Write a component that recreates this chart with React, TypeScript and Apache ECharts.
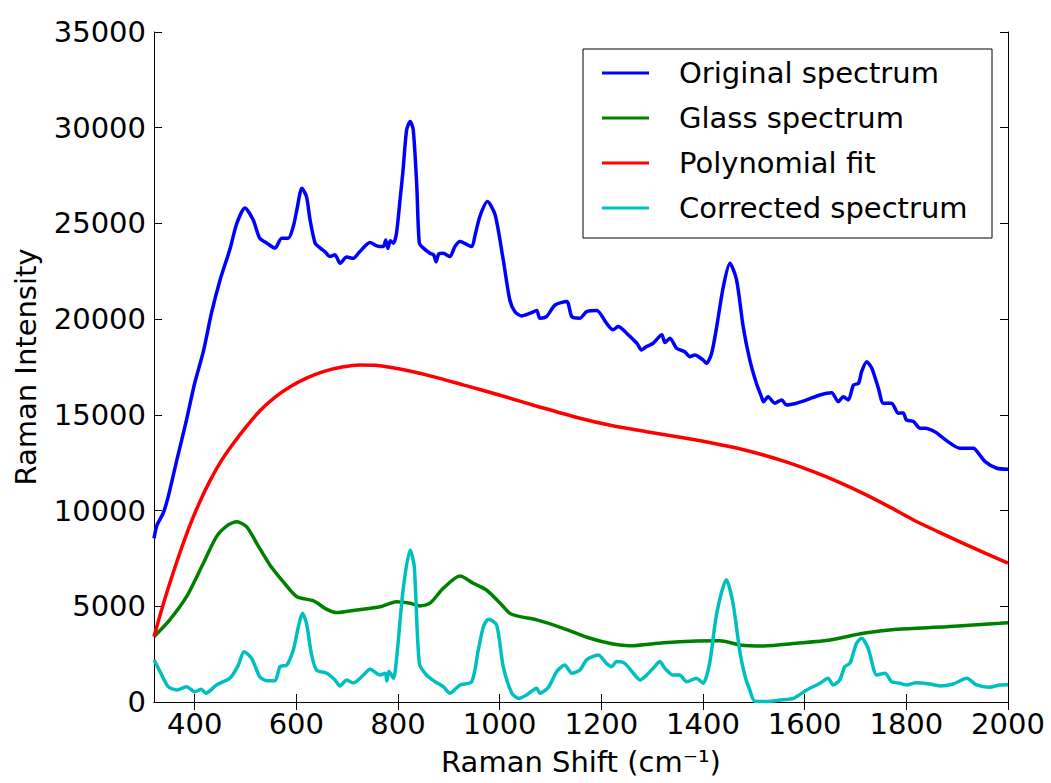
import React, { useEffect, useRef } from "react";
import * as echarts from "echarts";

const FONT = "DejaVu Sans";

const xTicks = [400, 600, 800, 1000, 1200, 1400, 1600, 1800, 2000];

const originalSpectrum: number[][] = [
  [320, 8550], [326, 9250], [338, 9860], [348, 10730], [365, 12650], [384, 14740], [400, 16650], [417, 18300],
  [433, 20310], [450, 22050], [469, 23620], [483, 25010], [499, 25800], [515, 25190], [528, 24230], [542, 23970],
  [558, 23710], [571, 24230], [584, 24230], [594, 24840], [601, 25710], [611, 26840], [620, 26400], [627, 25190],
  [637, 23970], [647, 23710], [656, 23530], [666, 23270], [676, 23360], [686, 22920], [699, 23240], [712, 23180],
  [725, 23530], [745, 24000], [758, 23830], [771, 23790], [776, 24140], [780, 23700], [785, 24100], [791, 23970],
  [797, 24490], [804, 26230], [810, 27800], [817, 29890], [824, 30320], [830, 29890], [837, 26930], [842, 23970],
  [850, 23710], [863, 23440], [870, 23360], [875, 23000], [880, 23400], [889, 23440], [902, 23270], [912, 23790],
  [922, 24050], [945, 23790], [951, 24310], [961, 25360], [976, 26140], [991, 25450], [1007, 23100], [1020, 21000],
  [1030, 20390], [1043, 20170], [1060, 20310], [1073, 20450], [1079, 20050], [1092, 20130], [1109, 20740],
  [1132, 20920], [1142, 20130], [1158, 20050], [1171, 20390], [1191, 20450], [1210, 19790], [1223, 19440],
  [1233, 19610], [1250, 19260], [1263, 18920], [1270, 18740], [1279, 18390], [1289, 18570], [1302, 18740],
  [1319, 19180], [1325, 18780], [1335, 19000], [1348, 18480], [1364, 18300], [1374, 18040], [1384, 18130],
  [1400, 17870], [1407, 17700], [1417, 18220], [1427, 19610], [1440, 21700], [1453, 22920], [1466, 22050],
  [1479, 19610], [1492, 17870], [1505, 16650], [1515, 15950], [1519, 15690], [1528, 15950], [1541, 15610],
  [1555, 15780], [1564, 15520], [1584, 15610], [1604, 15780], [1630, 16040], [1653, 16160], [1666, 15690],
  [1676, 15950], [1686, 15780], [1696, 16560], [1706, 16650], [1712, 17260], [1722, 17780], [1732, 17440],
  [1745, 16390], [1755, 15610], [1771, 15610], [1784, 15090], [1794, 15100], [1800, 14740], [1814, 14650],
  [1827, 14300], [1837, 14300], [1856, 14120], [1869, 13860], [1882, 13600], [1905, 13260], [1932, 13260],
  [1942, 12990], [1955, 12560], [1978, 12210], [2000, 12160],
];

const glassSpectrum: number[][] = [
  [320, 3410], [351, 4290], [384, 5500], [417, 7250], [443, 8640], [466, 9250], [483, 9420], [502, 9160],
  [522, 8290], [548, 7160], [574, 6290], [601, 5500], [633, 5290], [660, 4840], [679, 4670], [719, 4810],
  [765, 4980], [797, 5240], [824, 5160], [843, 5020], [863, 5160], [889, 5940], [922, 6580], [948, 6200],
  [974, 5850], [1001, 5160], [1020, 4630], [1040, 4460], [1073, 4290], [1125, 3850], [1178, 3330], [1223, 3030],
  [1256, 2940], [1322, 3100], [1387, 3190], [1433, 3200], [1473, 2980], [1519, 2930], [1584, 3070], [1650, 3240],
  [1715, 3590], [1781, 3800], [1879, 3930], [1984, 4110], [2000, 4140],
];

const polynomialFit: number[][] = [
  [320, 3410], [335, 4820], [351, 6200], [370, 7720], [391, 9250], [410, 10450], [430, 11550], [452, 12580],
  [476, 13500], [500, 14330], [528, 15200], [557, 15900], [587, 16460], [620, 16920], [653, 17260], [690, 17500],
  [725, 17610], [755, 17590], [784, 17490], [825, 17280], [869, 17000], [930, 16550], [999, 16040], [1080, 15400],
  [1158, 14820], [1220, 14440], [1289, 14120], [1355, 13830], [1420, 13520], [1470, 13240], [1519, 12900],
  [1568, 12500], [1617, 12030], [1666, 11500], [1715, 10900], [1765, 10220], [1814, 9510], [1863, 8890],
  [1912, 8290], [1956, 7760], [2000, 7250],
];

const correctedSpectrum: number[][] = [
  [320, 2200], [332, 1580], [348, 800], [365, 630], [384, 800], [400, 540], [413, 660], [422, 460], [443, 890],
  [469, 1240], [486, 1930], [497, 2630], [512, 2280], [528, 1320], [542, 1110], [558, 1110], [568, 1850],
  [581, 1930], [594, 2720], [604, 3930], [612, 4630], [620, 4110], [630, 2460], [640, 1670], [660, 1500],
  [676, 1150], [686, 840], [699, 1150], [712, 1000], [732, 1410], [745, 1710], [765, 1410], [775, 1500],
  [778, 1100], [782, 1600], [791, 1240], [797, 2200], [810, 5850], [824, 7940], [832, 7070], [842, 2020],
  [856, 1410], [873, 1060], [889, 800], [902, 460], [922, 890], [945, 1060], [958, 2720], [968, 3930],
  [978, 4320], [994, 4020], [1007, 1850], [1024, 460], [1037, 190], [1053, 370], [1073, 720], [1079, 460],
  [1096, 770], [1112, 1580], [1128, 1930], [1142, 1500], [1158, 1670], [1171, 2200], [1194, 2460], [1210, 2020],
  [1220, 1850], [1230, 2110], [1246, 2020], [1263, 1500], [1276, 1150], [1289, 1400], [1305, 1850], [1315, 2110],
  [1325, 1760], [1341, 1410], [1354, 1410], [1368, 1060], [1387, 1240], [1400, 980], [1413, 2020], [1427, 4630],
  [1446, 6380], [1459, 5160], [1473, 2540], [1483, 1320], [1492, 630], [1502, 40], [1525, 30], [1551, 100],
  [1578, 190], [1604, 630], [1630, 980], [1646, 1240], [1656, 890], [1669, 1150], [1679, 1850], [1689, 2020],
  [1702, 3070], [1712, 3330], [1725, 2800], [1742, 1410], [1758, 1500], [1771, 1060], [1787, 980], [1800, 890],
  [1820, 1010], [1846, 940], [1866, 840], [1892, 940], [1919, 1240], [1938, 890], [1964, 770], [1984, 890],
  [2000, 900],
];

const seriesNames = ["Original spectrum", "Glass spectrum", "Polynomial fit", "Corrected spectrum"];
const seriesColors = ["#0000ff", "#008000", "#ff0000", "#00bfbf"];

export default function App() {
  const ref = useRef<HTMLDivElement>(null);
  useEffect(() => {
    if (!ref.current) return;
    const chart = echarts.init(ref.current, undefined, { renderer: "svg" });
    const axisLine = { show: true, lineStyle: { color: "#000", width: 1 } };
    const tickStyle = { inside: true, length: 8, lineStyle: { color: "#000", width: 1 } };
    const plain = (v: number) => String(v);
    const datasets = [originalSpectrum, glassSpectrum, polynomialFit, correctedSpectrum];
    chart.setOption({
      animation: false,
      backgroundColor: "#fff",
      grid: { left: 154, right: 43, top: 32, bottom: 81, containLabel: false },
      legend: {
        orient: "vertical",
        left: 602,
        top: 56,
        padding: 0,
        icon: "rect",
        itemWidth: 47,
        itemHeight: 3,
        itemGap: 11,
        data: seriesNames,
        textStyle: { fontFamily: FONT, fontSize: 29, color: "#000", lineHeight: 34, padding: [0, 0, 0, 25] },
        z: 10,
      },
      graphic: [
        {
          type: "rect",
          z: 9,
          shape: { x: 583, y: 49, width: 409, height: 189 },
          style: { fill: "#fff", stroke: "#000", lineWidth: 1 },
        },
      ],
      xAxis: [
        {
          type: "value",
          position: "bottom",
          min: 320,
          max: 2000,
          name: "Raman Shift (cm⁻¹)",
          nameLocation: "middle",
          nameGap: 45,
          nameTextStyle: { fontFamily: FONT, fontSize: 29, color: "#000" },
          axisLine,
          axisTick: { ...tickStyle, customValues: xTicks },
          axisLabel: { customValues: xTicks, formatter: plain, fontFamily: FONT, fontSize: 29, color: "#000", margin: 7 },
          splitLine: { show: false },
        },
        {
          type: "value",
          position: "top",
          min: 320,
          max: 2000,
          axisLine,
          axisTick: { ...tickStyle, customValues: xTicks },
          axisLabel: { show: false },
          splitLine: { show: false },
        },
      ],
      yAxis: [
        {
          type: "value",
          position: "left",
          min: 0,
          max: 35000,
          interval: 5000,
          name: "Raman Intensity",
          nameLocation: "middle",
          nameGap: 114,
          nameTextStyle: { fontFamily: FONT, fontSize: 29, color: "#000" },
          axisLine,
          axisTick: tickStyle,
          axisLabel: { formatter: plain, fontFamily: FONT, fontSize: 29, color: "#000", margin: 8 },
          splitLine: { show: false },
        },
        {
          type: "value",
          position: "right",
          min: 0,
          max: 35000,
          interval: 5000,
          axisLine,
          axisTick: tickStyle,
          axisLabel: { show: false },
          splitLine: { show: false },
        },
      ],
      series: datasets.map((d, i) => ({
        name: seriesNames[i],
        type: "line",
        data: d,
        xAxisIndex: 0,
        yAxisIndex: 0,
        symbol: "none",
        showSymbol: false,
        smooth: i === 2 ? 0.3 : 0.25,
        clip: true,
        lineStyle: { color: seriesColors[i], width: 3.5 },
        itemStyle: { color: seriesColors[i] },
      })),
    });
    return () => chart.dispose();
  }, []);
  return <div ref={ref} style={{ position: "fixed", left: 0, top: 0, width: 1051, height: 783 }} />;
}
